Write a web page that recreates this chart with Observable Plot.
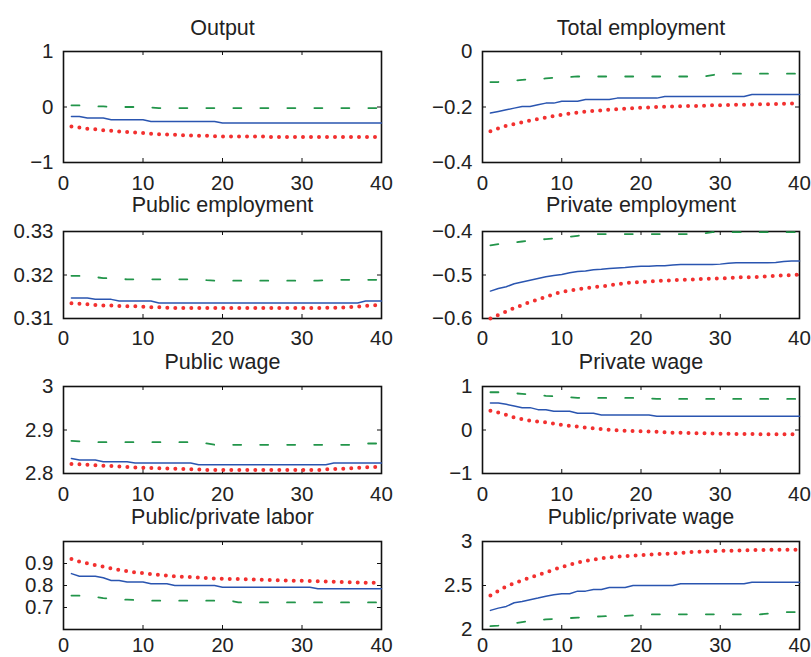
<!DOCTYPE html>
<html><head><meta charset="utf-8">
<script src="https://cdn.jsdelivr.net/npm/d3@7"></script>
<script src="https://cdn.jsdelivr.net/npm/@observablehq/plot@0.6"></script>
<style>
body{margin:0;background:#fff;}
#chart{position:relative;width:811px;height:657px;overflow:hidden;background:#fff;}
#chart svg{position:absolute;}
</style></head><body><div id="chart"></div>
<script>
// ---------- data ----------
const periods = [1,2,3,4,5,6,7,8,9,10,11,12,13,14,15,16,17,18,19,20,21,22,23,24,25,26,27,28,29,30,31,32,33,34,35,36,37,38,39,40];
const xTicks = [0,10,20,30,40];
const titles = ["Output","Total employment","Public employment","Private employment","Public wage","Private wage","Public/private labor","Public/private wage"];

// Output
const outputDomain = [-1,1];
const outputTicks = [-1,0,1];
const outputBlue = [-0.17,-0.17,-0.2,-0.2,-0.2,-0.23,-0.23,-0.23,-0.23,-0.23,-0.26,-0.26,-0.26,-0.26,-0.26,-0.26,-0.26,-0.26,-0.26,-0.29,-0.29,-0.29,-0.29,-0.29,-0.29,-0.29,-0.29,-0.29,-0.29,-0.29,-0.29,-0.29,-0.29,-0.29,-0.29,-0.29,-0.29,-0.29,-0.29,-0.29];
const outputGreen = [0.03,0.03,0.02,0.01,0.01,0,0,0,0,0,-0.01,-0.02,-0.02,-0.02,-0.02,-0.02,-0.02,-0.02,-0.02,-0.02,-0.02,-0.02,-0.02,-0.02,-0.02,-0.02,-0.02,-0.02,-0.02,-0.02,-0.02,-0.02,-0.02,-0.02,-0.02,-0.02,-0.02,-0.02,-0.02,-0.02];
const outputRed = [-0.35,-0.37,-0.39,-0.40,-0.42,-0.43,-0.44,-0.45,-0.46,-0.47,-0.48,-0.49,-0.495,-0.50,-0.51,-0.515,-0.52,-0.52,-0.525,-0.53,-0.53,-0.53,-0.53,-0.53,-0.53,-0.54,-0.54,-0.54,-0.54,-0.54,-0.54,-0.54,-0.54,-0.54,-0.54,-0.54,-0.54,-0.54,-0.54,-0.54];

// Total employment
const totalDomain = [-0.4,0];
const totalTicks = [-0.4,-0.2,0];
const totalBlue = [-0.222,-0.216,-0.21,-0.204,-0.198,-0.198,-0.192,-0.186,-0.186,-0.179,-0.179,-0.179,-0.173,-0.173,-0.173,-0.173,-0.168,-0.168,-0.168,-0.168,-0.168,-0.168,-0.162,-0.162,-0.162,-0.162,-0.162,-0.162,-0.162,-0.162,-0.162,-0.162,-0.162,-0.155,-0.155,-0.155,-0.155,-0.155,-0.155,-0.155];
const totalGreen = [-0.11,-0.11,-0.108,-0.105,-0.102,-0.1,-0.099,-0.097,-0.095,-0.094,-0.092,-0.09,-0.09,-0.09,-0.09,-0.09,-0.09,-0.09,-0.09,-0.09,-0.09,-0.09,-0.09,-0.09,-0.09,-0.09,-0.09,-0.09,-0.085,-0.08,-0.08,-0.08,-0.08,-0.08,-0.08,-0.08,-0.08,-0.08,-0.08,-0.08];
const totalRed = [-0.287,-0.277,-0.268,-0.261,-0.255,-0.249,-0.243,-0.238,-0.232,-0.228,-0.224,-0.22,-0.217,-0.214,-0.212,-0.21,-0.208,-0.206,-0.204,-0.203,-0.202,-0.2,-0.199,-0.198,-0.197,-0.196,-0.196,-0.195,-0.194,-0.194,-0.193,-0.192,-0.192,-0.191,-0.19,-0.19,-0.189,-0.188,-0.187,-0.186];

// Public employment
const pubEmpDomain = [0.31,0.33];
const pubEmpTicks = [0.31,0.32,0.33];
const pubEmpBlue = [0.3147,0.3147,0.3147,0.3144,0.3144,0.3144,0.314,0.314,0.314,0.314,0.314,0.31355,0.31355,0.31355,0.31355,0.31355,0.31355,0.31355,0.31355,0.31355,0.31355,0.31355,0.31355,0.31355,0.31355,0.31355,0.31355,0.31355,0.31355,0.31355,0.31355,0.31355,0.31355,0.31355,0.31355,0.31355,0.31355,0.314,0.314,0.314];
const pubEmpGreen = [0.3198,0.3198,0.3197,0.3195,0.3193,0.3192,0.3191,0.319,0.319,0.319,0.319,0.319,0.319,0.319,0.319,0.319,0.319,0.3188,0.3187,0.3187,0.3187,0.3187,0.3187,0.3187,0.3187,0.3187,0.3187,0.3187,0.3187,0.3187,0.3187,0.3187,0.3188,0.3189,0.3189,0.3189,0.3189,0.3189,0.3189,0.3189];
const pubEmpRed = [0.3135,0.3134,0.3133,0.3131,0.313,0.313,0.3129,0.3128,0.3128,0.3127,0.3126,0.3126,0.3125,0.3124,0.3124,0.3124,0.3124,0.3124,0.3124,0.3124,0.3124,0.3124,0.3124,0.3124,0.3124,0.3124,0.3124,0.3124,0.3124,0.3124,0.3124,0.3124,0.3125,0.3125,0.3125,0.3126,0.3127,0.3129,0.313,0.3131];

// Private employment
const privEmpDomain = [-0.6,-0.4];
const privEmpTicks = [-0.6,-0.5,-0.4];
const privEmpBlue = [-0.537,-0.531,-0.527,-0.52,-0.516,-0.512,-0.508,-0.504,-0.501,-0.499,-0.495,-0.492,-0.491,-0.488,-0.487,-0.485,-0.484,-0.483,-0.481,-0.48,-0.48,-0.479,-0.479,-0.477,-0.476,-0.476,-0.476,-0.476,-0.476,-0.475,-0.473,-0.472,-0.472,-0.472,-0.472,-0.472,-0.471,-0.469,-0.468,-0.468];
const privEmpGreen = [-0.432,-0.429,-0.427,-0.425,-0.423,-0.421,-0.419,-0.4175,-0.416,-0.414,-0.412,-0.41,-0.408,-0.406,-0.406,-0.406,-0.406,-0.406,-0.406,-0.406,-0.406,-0.406,-0.406,-0.406,-0.406,-0.406,-0.406,-0.404,-0.4015,-0.4015,-0.4015,-0.4015,-0.4015,-0.4015,-0.4015,-0.4015,-0.4015,-0.4015,-0.4015,-0.4015];
const privEmpRed = [-0.6,-0.592,-0.584,-0.576,-0.569,-0.562,-0.556,-0.55,-0.544,-0.539,-0.536,-0.533,-0.53,-0.528,-0.526,-0.524,-0.521,-0.519,-0.517,-0.516,-0.515,-0.514,-0.513,-0.512,-0.511,-0.511,-0.51,-0.509,-0.508,-0.508,-0.507,-0.506,-0.505,-0.505,-0.504,-0.503,-0.502,-0.501,-0.5,-0.499];

// Public wage
const pubWageDomain = [2.8,3];
const pubWageTicks = [2.8,2.9,3];
const pubWageBlue = [2.8347,2.8308,2.8308,2.8308,2.827,2.827,2.827,2.827,2.8239,2.8239,2.8239,2.8239,2.8239,2.8239,2.8239,2.8239,2.8201,2.8201,2.8201,2.8201,2.8201,2.8201,2.8201,2.8201,2.8201,2.8201,2.8201,2.8201,2.8201,2.8201,2.8201,2.8201,2.8201,2.8239,2.8239,2.8239,2.8239,2.8239,2.8239,2.8239];
const pubWageGreen = [2.875,2.874,2.872,2.872,2.872,2.872,2.872,2.872,2.872,2.872,2.872,2.872,2.872,2.872,2.872,2.872,2.872,2.869,2.866,2.866,2.866,2.866,2.866,2.866,2.866,2.866,2.866,2.866,2.866,2.866,2.866,2.866,2.866,2.866,2.866,2.866,2.867,2.869,2.869,2.869];
const pubWageRed = [2.8217,2.821,2.82,2.819,2.818,2.817,2.816,2.815,2.814,2.813,2.8125,2.812,2.8115,2.811,2.8105,2.81,2.8095,2.808,2.808,2.808,2.808,2.808,2.808,2.808,2.808,2.808,2.808,2.808,2.808,2.808,2.808,2.808,2.8095,2.81,2.811,2.812,2.813,2.814,2.815,2.816];

// Private wage
const privWageDomain = [-1,1];
const privWageTicks = [-1,0,1];
const privWageBlue = [0.622,0.622,0.59,0.55,0.514,0.514,0.468,0.468,0.43,0.43,0.43,0.384,0.384,0.384,0.346,0.346,0.346,0.346,0.346,0.346,0.346,0.315,0.315,0.315,0.315,0.315,0.315,0.315,0.315,0.315,0.315,0.315,0.315,0.315,0.315,0.315,0.315,0.315,0.315,0.315];
const privWageGreen = [0.868,0.868,0.86,0.845,0.83,0.815,0.8,0.785,0.775,0.765,0.752,0.74,0.738,0.738,0.738,0.738,0.738,0.738,0.738,0.738,0.725,0.715,0.715,0.715,0.715,0.715,0.715,0.715,0.715,0.715,0.715,0.715,0.715,0.715,0.715,0.715,0.715,0.715,0.715,0.715];
const privWageRed = [0.445,0.4,0.35,0.29,0.25,0.214,0.19,0.176,0.145,0.115,0.095,0.076,0.057,0.038,0.022,0.007,-0.005,-0.016,-0.024,-0.031,-0.036,-0.04,-0.051,-0.062,-0.066,-0.07,-0.074,-0.077,-0.081,-0.085,-0.088,-0.09,-0.092,-0.094,-0.096,-0.1,-0.1,-0.1,-0.098,-0.095];

// Public/private labor
const ratioLabDomain = [0.6,1.0];
const ratioLabTicks = [0.7,0.8,0.9];
const ratioLabBlue = [0.854,0.842,0.842,0.842,0.835,0.823,0.823,0.8155,0.8155,0.8155,0.808,0.808,0.808,0.8,0.8,0.8,0.8,0.8,0.8,0.7924,0.7924,0.7924,0.7924,0.7924,0.7924,0.7924,0.7924,0.7924,0.7924,0.7924,0.7924,0.7848,0.7848,0.7848,0.7848,0.7848,0.7848,0.7848,0.7848,0.7848];
const ratioLabGreen = [0.754,0.754,0.752,0.748,0.743,0.74,0.737,0.7355,0.734,0.732,0.731,0.731,0.731,0.731,0.731,0.731,0.731,0.731,0.731,0.731,0.731,0.7232,0.7232,0.7232,0.7232,0.7232,0.7232,0.7232,0.7232,0.7232,0.7232,0.7232,0.7232,0.7232,0.7232,0.7232,0.7232,0.7232,0.7232,0.7232];
const ratioLabRed = [0.92,0.908,0.901,0.893,0.886,0.878,0.871,0.865,0.86,0.856,0.852,0.848,0.845,0.842,0.84,0.838,0.836,0.834,0.832,0.831,0.83,0.829,0.828,0.827,0.826,0.825,0.824,0.823,0.822,0.821,0.82,0.819,0.818,0.817,0.816,0.815,0.814,0.813,0.812,0.812];

// Public/private wage
const ratioWageDomain = [2,3];
const ratioWageTicks = [2,2.5,3];
const ratioWageBlue = [2.217,2.243,2.262,2.304,2.319,2.338,2.357,2.379,2.394,2.406,2.406,2.436,2.436,2.455,2.455,2.477,2.477,2.477,2.5,2.5,2.5,2.5,2.5,2.5,2.519,2.519,2.519,2.519,2.519,2.519,2.519,2.519,2.519,2.538,2.538,2.538,2.538,2.538,2.538,2.538];
const ratioWageGreen = [2.039,2.045,2.055,2.07,2.085,2.095,2.105,2.115,2.12,2.125,2.13,2.135,2.14,2.145,2.15,2.152,2.153,2.155,2.16,2.165,2.17,2.172,2.172,2.172,2.172,2.172,2.172,2.172,2.172,2.172,2.172,2.172,2.172,2.172,2.172,2.18,2.19,2.198,2.198,2.198];
const ratioWageRed = [2.387,2.44,2.49,2.525,2.56,2.59,2.62,2.65,2.68,2.71,2.735,2.76,2.78,2.795,2.808,2.82,2.827,2.834,2.84,2.845,2.85,2.855,2.86,2.865,2.87,2.878,2.882,2.886,2.89,2.893,2.895,2.897,2.899,2.901,2.904,2.905,2.906,2.906,2.907,2.907];

// ---------- layout / style ----------
const blueColor = "#2a55b0";
const greenColor = "#22954a";
const redColor = "#f2302f";
const textColor = "#222";

const panels = [
  {title: titles[0], domain: outputDomain, ticks: outputTicks, blue: outputBlue, green: outputGreen, red: outputRed},
  {title: titles[1], domain: totalDomain, ticks: totalTicks, blue: totalBlue, green: totalGreen, red: totalRed},
  {title: titles[2], domain: pubEmpDomain, ticks: pubEmpTicks, blue: pubEmpBlue, green: pubEmpGreen, red: pubEmpRed},
  {title: titles[3], domain: privEmpDomain, ticks: privEmpTicks, blue: privEmpBlue, green: privEmpGreen, red: privEmpRed},
  {title: titles[4], domain: pubWageDomain, ticks: pubWageTicks, blue: pubWageBlue, green: pubWageGreen, red: pubWageRed},
  {title: titles[5], domain: privWageDomain, ticks: privWageTicks, blue: privWageBlue, green: privWageGreen, red: privWageRed},
  {title: titles[6], domain: ratioLabDomain, ticks: ratioLabTicks, blue: ratioLabBlue, green: ratioLabGreen, red: ratioLabRed},
  {title: titles[7], domain: ratioWageDomain, ticks: ratioWageTicks, blue: ratioWageBlue, green: ratioWageGreen, red: ratioWageRed}
];

const colLeft = [0, 405];
const colWidth = [405, 406];
const colML = [63, 77];
const colMR = [24, 12];
const rowTop = [51, 231, 386, 541];
const rowBottom = [162, 318, 473, 629];
const titleGap = [17, 20, 17.5, 18];
const xPad = [13, 12, 13, 8];
const MT = 42, MB = 40;

const fmt = d => (d < 0 ? "\u2212" + String(Math.abs(d)) : String(d));

const chart = document.getElementById("chart");
panels.forEach((p, i) => {
  const r = Math.floor(i / 2), c = i % 2;
  const H = rowBottom[r] - rowTop[r];
  const W = colWidth[c] - colML[c] - colMR[c];
  const tk = 4;
  const svg = Plot.plot({
    width: colWidth[c],
    height: H + MT + MB,
    marginLeft: colML[c], marginRight: colMR[c], marginTop: MT, marginBottom: MB,
    x: {domain: [0, 40], label: null},
    y: {domain: p.domain, label: null},
    style: {background: "transparent", overflow: "visible", fontFamily: "'Liberation Sans', Arial, Helvetica, sans-serif", fontSize: "20.5px", color: textColor},
    marks: [
      Plot.frame({stroke: "#111", strokeWidth: 1.6}),
      Plot.tickX(xTicks, {x: d => d, insetTop: H - tk, stroke: "#111", strokeWidth: 1}),
      Plot.tickX(xTicks, {x: d => d, insetBottom: H - tk, stroke: "#111", strokeWidth: 1}),
      Plot.tickY(p.ticks, {y: d => d, insetRight: W - tk, stroke: "#111", strokeWidth: 1}),
      Plot.tickY(p.ticks, {y: d => d, insetLeft: W - tk, stroke: "#111", strokeWidth: 1}),
      Plot.axisX({ticks: xTicks, tickSize: 0, tickPadding: xPad[r], tickFormat: fmt, label: null, fill: textColor, fontSize: r === 3 ? 20 : 20.5}),
      Plot.axisY({ticks: p.ticks, tickSize: 0, tickPadding: 10, tickFormat: fmt, label: null, fill: textColor}),
      Plot.lineY(p.green, {x: periods, stroke: greenColor, strokeWidth: 1.8, strokeDasharray: "8,19"}),
      Plot.lineY(p.blue, {x: periods, stroke: blueColor, strokeWidth: 1.5}),
      Plot.lineY(p.red, {x: periods, stroke: redColor, strokeWidth: 4, strokeDasharray: "0,8", strokeLinecap: "round"}),
      Plot.text([p.title], {text: d => d, frameAnchor: "top", lineAnchor: "bottom", dy: -titleGap[r], fontSize: 21.5, fill: textColor})
    ]
  });
  svg.style.left = colLeft[c] + "px";
  svg.style.top = (rowTop[r] - MT) + "px";
  chart.appendChild(svg);
});
</script>
</body></html>
